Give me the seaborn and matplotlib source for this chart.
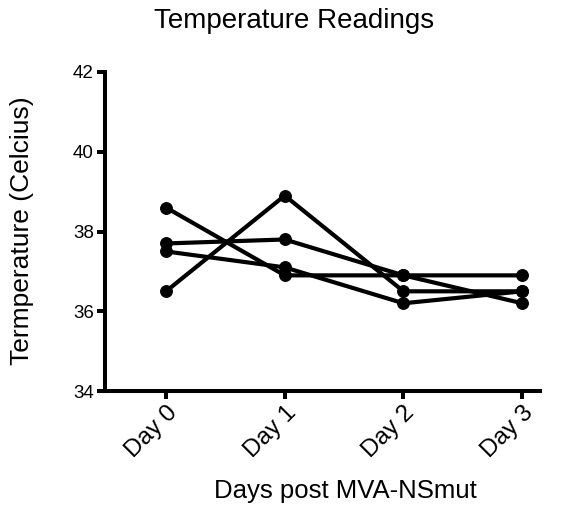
import matplotlib
matplotlib.use("Agg")
import matplotlib.pyplot as plt
import seaborn as sns
import pandas as pd

days = ["Day 0", "Day 1", "Day 2", "Day 3"]
animal_1 = [38.6, 36.9, 36.9, 36.9]
animal_2 = [36.5, 38.9, 36.5, 36.5]
animal_3 = [37.7, 37.8, 36.9, 36.2]
animal_4 = [37.5, 37.1, 36.2, 36.5]
y_ticks = [34, 36, 38, 40, 42]

rows = []
for name, vals in [("A1", animal_1), ("A2", animal_2), ("A3", animal_3), ("A4", animal_4)]:
    for i, v in enumerate(vals):
        rows.append({"animal": name, "day": i, "temp": v})
df = pd.DataFrame(rows)

sns.set_style("ticks")
plt.rcParams['font.family'] = ['Liberation Sans', 'DejaVu Sans']
plt.rcParams['text.color'] = 'black'
plt.rcParams['xtick.color'] = 'black'
plt.rcParams['ytick.color'] = 'black'
plt.rcParams['axes.labelcolor'] = 'black'

fig = plt.figure(figsize=(5.76, 5.08), dpi=100)
ax = fig.add_axes([105/576, 1-391/508, (540-105)/576, (391-72)/508])

sns.lineplot(data=df, x="day", y="temp", units="animal", estimator=None,
             color="black", marker="o", markersize=8.5, linewidth=3.0,
             markeredgecolor="black", ax=ax, legend=False)

ax.set_xlim(-0.514, 3.15)
ax.set_ylim(34, 42)
ax.set_yticks(y_ticks)
ax.set_yticklabels([str(t) for t in y_ticks], fontsize=13.5)
ax.set_xticks(range(len(days)))
ax.set_xticklabels(days, fontsize=17.5, rotation=45, ha="right", rotation_mode="anchor")
ax.set_xlabel("")
ax.set_ylabel("")
for s in ["top", "right"]:
    ax.spines[s].set_visible(False)
for s in ["left", "bottom"]:
    ax.spines[s].set_linewidth(2.9)
    ax.spines[s].set_color("black")
ax.tick_params(width=2.9, length=6, color="black", pad=2)

fig.text(294/576, 1-21/508, "Temperature Readings", fontsize=20, ha="center", va="center")
fig.text(345/576, 1-491/508, "Days post MVA-NSmut", fontsize=18.5, ha="center", va="center")
fig.text(22/576, 1-231/508, "Termperature (Celcius)", fontsize=19, ha="center", va="center", rotation=90)

fig.savefig("out.png", dpi=100)
